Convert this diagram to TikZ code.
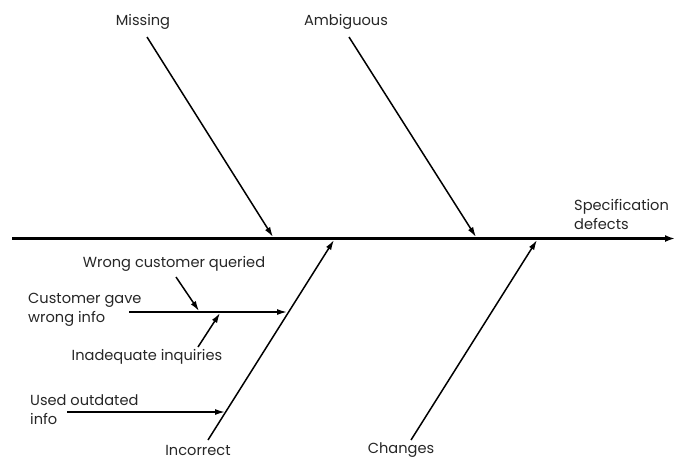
\documentclass[tikz,border=0pt]{standalone}
\usepackage{fontspec}
\setmainfont{Poppins}
\usetikzlibrary{arrows.meta}
\begin{document}
\begin{tikzpicture}[x=1pt,y=-1pt,
  lbl/.style={inner sep=0pt, font=\fontsize{14.6}{19}\selectfont, text=black!85},
  spine/.style={line width=2.4pt, -{Latex[length=10pt,width=7pt]}},
  bone/.style={line width=1.5pt, -{Latex[length=10pt,width=6pt]}},
  twig/.style={line width=1.5pt, -{Latex[length=10pt,width=6pt]}}]
\useasboundingbox (0,0) rectangle (675,459);

% labels
\node[lbl] (missing) at (143,22) {Missing};
\node[lbl] (ambig) at (346,22) {Ambiguous};
\node[lbl, align=left, anchor=west] (spec) at (574,214) {Specification\\defects};
\node[lbl] (incorrect) at (198,450) {Incorrect};
\node[lbl] (changes) at (401,450) {Changes};
\node[lbl] (wcq) at (174,264) {Wrong customer queried};
\node[lbl, align=left, anchor=west] (cgwi) at (28,310) {Customer gave\\wrong info};
\node[lbl] (inq) at (147,357) {Inadequate inquiries};
\node[lbl, align=left, anchor=west] (uoi) at (30,410) {Used outdated\\info};

% spine
\coordinate (tail) at (12,238.5);
\coordinate (head) at (675,238.5);
\draw[spine] (tail) -- (head);

% main bones
\coordinate (m0) at (147,37);  \coordinate (m1) at (273,237);
\coordinate (a0) at (349,37);  \coordinate (a1) at (476,237);
\coordinate (i0) at (208,440); \coordinate (i1) at (334,240);
\coordinate (c0) at (411,440); \coordinate (c1) at (537,240);
\draw[bone] (m0) -- (m1);
\draw[bone] (a0) -- (a1);
\draw[bone] (i0) -- (i1);
\draw[bone] (c0) -- (c1);

% sub-causes of "Incorrect"
\coordinate (cg0) at (129,312); \coordinate (cg1) at (287,312);
\coordinate (u0) at (67,412);   \coordinate (u1) at (225,412);
\draw[twig] (cg0) -- (cg1);
\draw[twig] (u0) -- (u1);

% causes of "Customer gave wrong info"
\coordinate (w0) at (176,277); \coordinate (w1) at (199,311);
\coordinate (q0) at (198,347); \coordinate (q1) at (220,313);
\draw[twig] (w0) -- (w1);
\draw[twig] (q0) -- (q1);
\end{tikzpicture}
\end{document}
